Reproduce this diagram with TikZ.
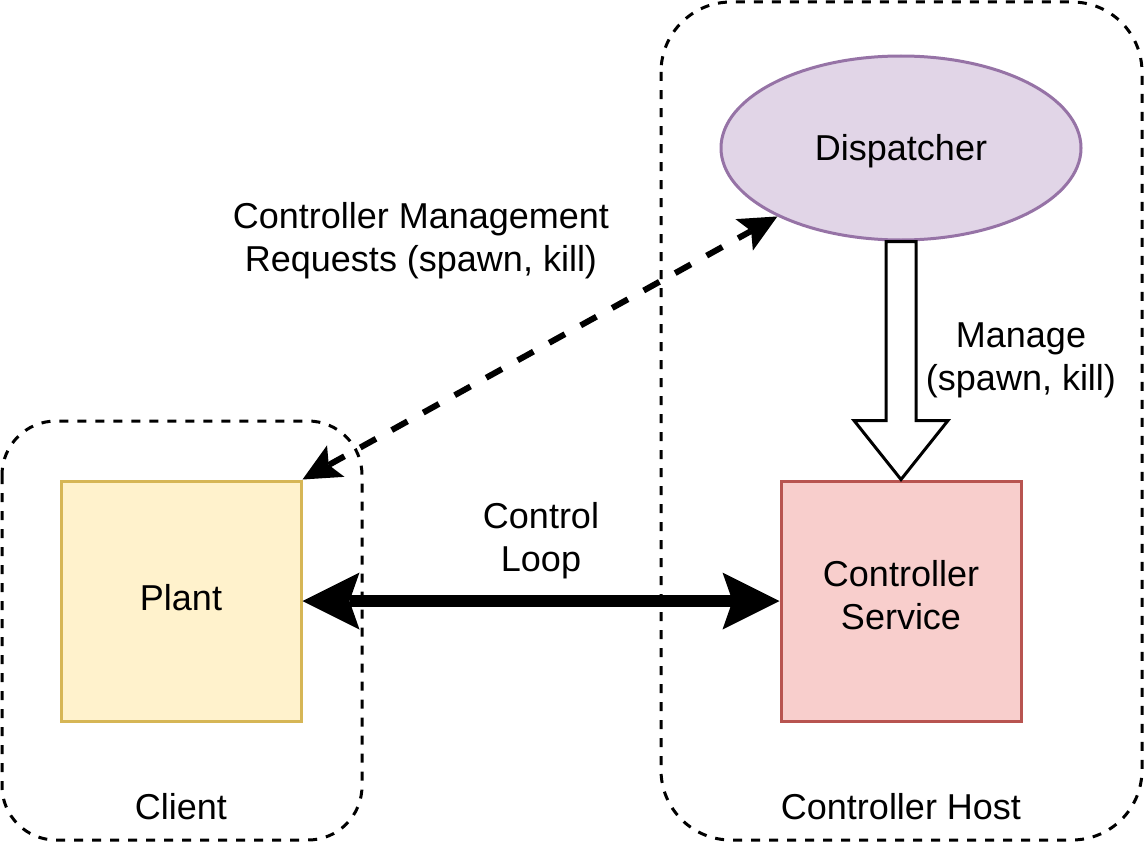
\documentclass[tikz,border=0pt]{standalone}
\usepackage{fontspec}
\setmainfont{Liberation Sans}
\usetikzlibrary{arrows.meta,shapes.geometric,calc}
\definecolor{plantfill}{HTML}{FFF2CC}
\definecolor{plantline}{HTML}{D6B656}
\definecolor{ctrlfill}{HTML}{F8CECC}
\definecolor{ctrlline}{HTML}{B85450}
\definecolor{dispfill}{HTML}{E1D5E7}
\definecolor{displine}{HTML}{9673A6}
\tikzset{
  container/.style={draw=black, line width=3pt, dash pattern=on 9pt off 9pt},
  boxnode/.style={rectangle, minimum width=240pt, minimum height=240pt, inner sep=0pt, line width=3pt, align=center},
  txt/.style={align=center, inner sep=0pt},
  bigtip/.tip={Stealth[length=57pt, width=57pt, inset=10pt, line width=0pt]},
  smalltip/.tip={Stealth[length=38pt, width=36pt, inset=8pt, line width=0pt]},
}
\begin{document}
\begin{tikzpicture}[x=1pt, y=-1pt, font=\fontsize{36}{43}\selectfont]
\useasboundingbox (0,0) rectangle (1146,843);
% containers
\draw[container, rounded corners=54pt] (2,421) rectangle (362,840);
\draw[container, rounded corners=70pt] (661,2) rectangle (1142,840);
\node[txt] (clientlbl) at (181,807) {Client};
\node[txt] (hostlbl) at (901,807) {Controller Host};
% nodes
\node[boxnode, fill=plantfill, draw=plantline, text depth=8pt] (plant) at (181,601) {Plant};
\node[boxnode, fill=ctrlfill, draw=ctrlline] (ctrl) at (901,601) {Controller\\Service\strut};
\node[ellipse, fill=dispfill, draw=displine, line width=3pt, minimum width=360pt, minimum height=184pt, inner sep=0pt, text height=32pt] (disp) at (901,148) {Dispatcher};
% block arrow
\draw[line width=3pt, fill=white, line join=miter]
  ($(disp.south)+(-15,0)$) -- ($(ctrl.north)+(-15,-59)$) -- ($(ctrl.north)+(-47,-59)$)
  -- (ctrl.north) -- ($(ctrl.north)+(47,-59)$) -- ($(ctrl.north)+(15,-59)$)
  -- ($(disp.south)+(15,0)$) -- cycle;
\node[txt] (managelbl) at (1021,360) {Manage\\(spawn, kill)};
% control loop
\draw[line width=12pt, bigtip-bigtip] (plant.east) -- (ctrl.west);
\node[txt] (looplbl) at (541,541) {Control\\Loop};
% management requests
\draw[line width=6pt, dash pattern=on 18pt off 18pt, smalltip-smalltip] (plant.north east) -- (disp);
\node[txt] (reqlbl) at (421,241) {Controller Management\\Requests (spawn, kill)};
\end{tikzpicture}
\end{document}
